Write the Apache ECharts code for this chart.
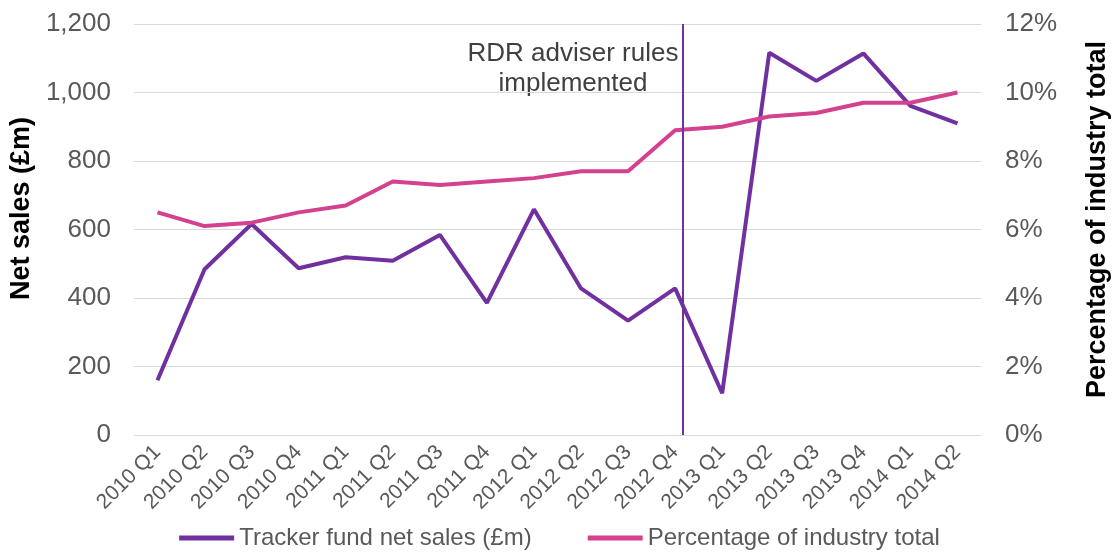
<!DOCTYPE html>
<html>
<head>
<meta charset="utf-8">
<script src="https://cdn.jsdelivr.net/npm/echarts@6/dist/echarts.min.js"></script>
<style>
  html, body { margin: 0; padding: 0; background: #fff; }
  #chart { width: 1119px; height: 553px; }
</style>
</head>
<body>
<div id="chart"></div>
<script>
// quarters on the x axis
const quarters = ['2010 Q1', '2010 Q2', '2010 Q3', '2010 Q4', '2011 Q1', '2011 Q2', '2011 Q3', '2011 Q4',
  '2012 Q1', '2012 Q2', '2012 Q3', '2012 Q4', '2013 Q1', '2013 Q2', '2013 Q3', '2013 Q4', '2014 Q1', '2014 Q2'];

// tracker fund net sales, £m (left axis)
const trackerSales = [160, 484, 616, 487, 519, 509, 584, 386, 659, 428, 334, 428, 122, 1116, 1034, 1114, 961, 910];

// share of industry total, % (right axis)
const industryShare = [6.5, 6.1, 6.2, 6.5, 6.7, 7.4, 7.3, 7.4, 7.5, 7.7, 7.7, 8.9, 9.0, 9.3, 9.4, 9.7, 9.7, 10.0];

// RDR marker, measured in category slots from the left edge of the plot
const rdrPosition = 11.66;
const rdrLabel = 'RDR adviser rules\nimplemented';

const font = '"Liberation Sans", Arial, sans-serif';
const chart = echarts.init(document.getElementById('chart'), null, { renderer: 'canvas' });

const option = {
  animation: false,
  textStyle: { fontFamily: font },
  grid: { left: 131, right: 126, top: 24, bottom: 118, containLabel: false },
  legend: {
    top: 521,
    left: 'center',
    icon: 'rect',
    itemWidth: 55,
    itemHeight: 5,
    itemGap: 56,
    textStyle: { fontSize: 24, color: '#595959', fontFamily: font },
    data: ['Tracker fund net sales (£m)', 'Percentage of industry total']
  },
  xAxis: [
    {
      type: 'category',
      data: quarters,
      boundaryGap: true,
      axisLine: { show: false },
      axisTick: { show: false },
      axisLabel: { rotate: 45, interval: 0, fontSize: 21, color: '#595959', margin: 14, fontFamily: font }
    },
    { type: 'value', min: 0, max: 18, show: false }
  ],
  yAxis: [
    {
      type: 'value',
      min: 0, max: 1200, interval: 200,
      name: 'Net sales (£m)',
      nameLocation: 'middle',
      nameRotate: 90,
      nameGap: 94,
      nameTextStyle: { fontSize: 27, fontWeight: 'bold', color: '#000', fontFamily: font, padding: [0, 0, 0, 42] },
      axisLine: { show: false },
      axisTick: { show: false },
      axisLabel: { fontSize: 26, color: '#595959', margin: 23, fontFamily: font },
      splitLine: { lineStyle: { color: '#d9d9d9', width: 1 } }
    },
    {
      type: 'value',
      min: 0, max: 12, interval: 2,
      name: 'Percentage of industry total',
      nameLocation: 'middle',
      nameRotate: 90,
      nameGap: 103,
      nameTextStyle: { fontSize: 27, fontWeight: 'bold', color: '#000', fontFamily: font, padding: [0, 0, 0, 20] },
      axisLine: { show: false },
      axisTick: { show: false },
      axisLabel: { fontSize: 26, color: '#595959', margin: 24, formatter: '{value}%', fontFamily: font },
      splitLine: { show: false }
    }
  ],
  graphic: [
    {
      type: 'text',
      x: 573,
      y: 39,
      style: {
        text: rdrLabel,
        align: 'center',
        fontSize: 26,
        lineHeight: 30,
        fontFamily: font,
        fill: '#404040'
      }
    }
  ],
  series: [
    {
      name: 'Tracker fund net sales (£m)',
      type: 'line',
      data: trackerSales,
      yAxisIndex: 0,
      symbol: 'none',
      lineStyle: { color: '#7030a0', width: 4 },
      itemStyle: { color: '#7030a0' }
    },
    {
      name: 'Percentage of industry total',
      type: 'line',
      data: industryShare,
      yAxisIndex: 1,
      symbol: 'none',
      lineStyle: { color: '#d4418e', width: 4 },
      itemStyle: { color: '#d4418e' }
    },
    {
      name: 'rdr',
      type: 'line',
      xAxisIndex: 1,
      yAxisIndex: 0,
      data: [],
      markLine: {
        silent: true,
        symbol: 'none',
        label: { show: false },
        lineStyle: { color: '#7030a0', width: 2, type: 'solid' },
        data: [{ xAxis: rdrPosition }]
      }
    }
  ]
};

chart.setOption(option);
</script>
</body>
</html>
